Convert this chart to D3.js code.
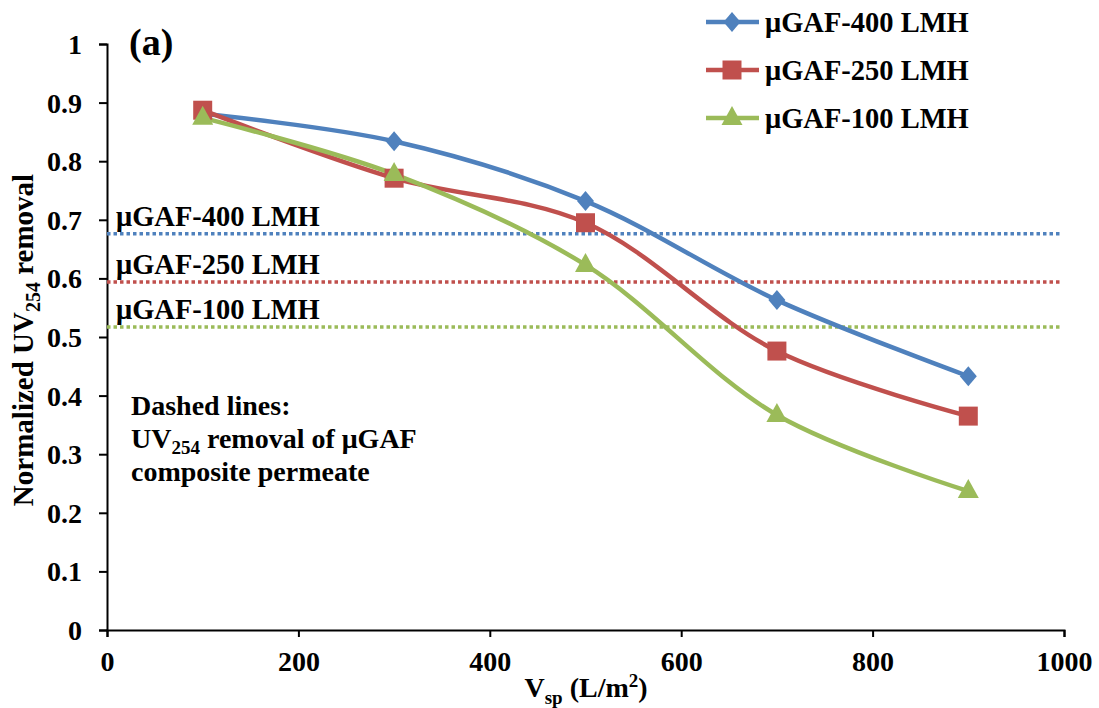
<!DOCTYPE html>
<html><head><meta charset="utf-8">
<script src="https://cdn.jsdelivr.net/npm/d3@7"></script>
<style>
body{margin:0;background:#fff;}
text{font-family:"Liberation Serif","Times New Roman",serif;font-weight:bold;fill:#000;}
</style></head>
<body><svg id="c" width="1099" height="708"></svg>
<script>
const xValues = [100, 300, 500, 700, 900];
const seriesNames = ["μGAF-400 LMH", "μGAF-250 LMH", "μGAF-100 LMH"];
const values400 = [0.881, 0.834, 0.732, 0.563, 0.433];
const values250 = [0.887, 0.771, 0.695, 0.476, 0.365];
const values100 = [0.874, 0.778, 0.623, 0.367, 0.237];
const compositeLevels = [0.676, 0.594, 0.517];
const xTicks = [0, 200, 400, 600, 800, 1000];
const yTicks = [0, 0.1, 0.2, 0.3, 0.4, 0.5, 0.6, 0.7, 0.8, 0.9, 1];
const colors = ["#4F81BD", "#C0504D", "#9BBB59"];
const allSeries = [values400, values250, values100];

const diamond = "M0,-10L8.5,0L0,10L-8.5,0Z";
const square = "M-9.5,-9.5H9.5V9.5H-9.5Z";
const triangle = "M0,-12L10.5,7H-10.5Z";
const shapes = [diamond, square, triangle];

const svg = d3.select("#c");
const x = d3.scaleLinear().domain([0, 1000]).range([107, 1064]);
const y = d3.scaleLinear().domain([0, 1]).range([630, 44]);

// axes
const yAxis = svg.append("g").attr("transform", "translate(107,0)")
  .call(d3.axisLeft(y).tickValues(yTicks).tickSize(8).tickPadding(17)
    .tickFormat(d => d === 0 || d === 1 ? d3.format("d")(d) : d3.format(".1f")(d)));
yAxis.selectAll("text").style("font-size", "28px").attr("dy", "0.34em");
const xAxis = svg.append("g").attr("transform", "translate(0,630)")
  .call(d3.axisBottom(x).tickValues(xTicks).tickSize(7).tickPadding(14).tickFormat(d3.format("d")));
xAxis.selectAll("text").style("font-size", "28px");
svg.selectAll(".domain").attr("stroke", "#000").attr("stroke-width", 2);
svg.selectAll(".tick line").attr("stroke", "#000").attr("stroke-width", 2);

// dotted reference lines
compositeLevels.forEach((v, i) => {
  svg.append("line").attr("x1", x(0)).attr("x2", x(997))
    .attr("y1", y(v)).attr("y2", y(v))
    .attr("stroke", colors[i]).attr("stroke-width", 3.5)
    .attr("stroke-dasharray", "3.5,3");
  svg.append("text").attr("x", 116).attr("y", y(v) - 8)
    .style("font-size", "28.5px").text(seriesNames[i]);
});

// series lines
const line = d3.line().x((d, i) => x(xValues[i])).y(d => y(d)).curve(d3.curveCatmullRom.alpha(0.5));
allSeries.forEach((vals, i) => {
  svg.append("path").attr("d", line(vals)).attr("fill", "none")
    .attr("stroke", colors[i]).attr("stroke-width", 4.5);
});
allSeries.forEach((vals, i) => {
  svg.selectAll(null).data(vals).enter().append("path")
    .attr("d", shapes[i])
    .attr("transform", (d, j) => `translate(${x(xValues[j])},${y(d)})`)
    .attr("fill", colors[i]);
});

// legend
seriesNames.forEach((n, i) => {
  const ly = 22 + i * 48;
  svg.append("line").attr("x1", 706).attr("x2", 759).attr("y1", ly).attr("y2", ly)
    .attr("stroke", colors[i]).attr("stroke-width", 4.5);
  svg.append("path").attr("d", shapes[i]).attr("transform", `translate(732,${ly})`).attr("fill", colors[i]);
  svg.append("text").attr("x", 765).attr("y", ly + 10).style("font-size", "28.5px").text(n);
});

// panel label
svg.append("text").attr("x", 129).attr("y", 55).style("font-size", "38px").text("(a)");

// annotation
const ann = svg.append("text").style("font-size", "28px");
ann.append("tspan").attr("x", 131).attr("y", 415).text("Dashed lines:");
const t2 = ann.append("tspan").attr("x", 131).attr("y", 448);
t2.append("tspan").text("UV");
t2.append("tspan").attr("dy", 6).style("font-size", "19px").text("254");
t2.append("tspan").attr("dy", -6).text(" removal of μGAF");
ann.append("tspan").attr("x", 131).attr("y", 481).text("composite permeate");

// axis titles
const yt = svg.append("text").attr("transform", "translate(33,340) rotate(-90)")
  .attr("text-anchor", "middle").style("font-size", "29px");
yt.append("tspan").text("Normalized UV");
yt.append("tspan").attr("dy", 7).style("font-size", "20px").text("254");
yt.append("tspan").attr("dy", -7).text(" removal");

const xt = svg.append("text").attr("x", 586).attr("y", 697).attr("text-anchor", "middle")
  .style("font-size", "28px");
xt.append("tspan").text("V");
xt.append("tspan").attr("dy", 7).style("font-size", "19px").text("sp");
xt.append("tspan").attr("dy", -7).text(" (L/m");
xt.append("tspan").attr("dy", -10).style("font-size", "19px").text("2");
xt.append("tspan").attr("dy", 10).text(")");
</script></body></html>
